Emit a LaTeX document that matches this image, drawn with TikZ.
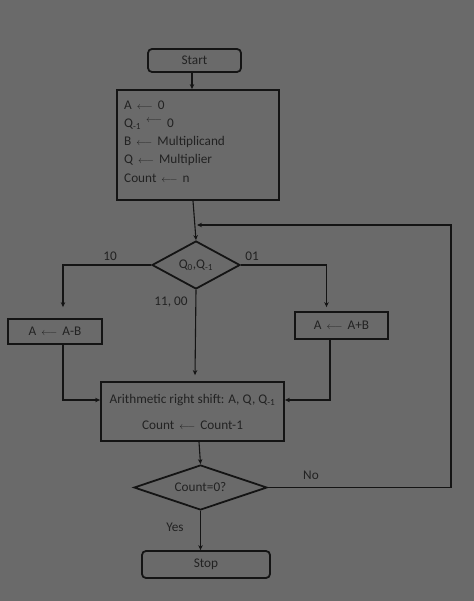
\documentclass[tikz,border=0pt]{standalone}
\usepackage{fontspec}
\setmainfont{Carlito}
\usetikzlibrary{shapes.geometric,arrows.meta}

\definecolor{bg}{HTML}{6A6A6A}
\definecolor{ink}{HTML}{141414}
\definecolor{txt}{HTML}{222222}

% thin assignment arrow used inside the boxes
\newcommand{\assignarrow}{\hspace{5bp}{\fontsize{10}{10}\selectfont$\longleftarrow$}\hspace{5bp}}

\tikzset{
  box/.style={draw=ink, line width=1.8bp, inner sep=0pt},
  term/.style={box, rounded corners=4bp},
  decision/.style={box, diamond},
  flow/.style={draw=ink, line width=1.1bp, -{Stealth[length=5bp,width=4.5bp]}},
  lbl/.style={text=txt}
}

\begin{document}
\begin{tikzpicture}[x=1bp, y=-1bp,
    every node/.style={font=\fontsize{13.3}{15}\selectfont, text=txt}]
  \fill[bg] (0,0) rectangle (474,601);
  \useasboundingbox (0,0) rectangle (474,601);

  % terminals
  \node[term, minimum width=93bp, minimum height=23bp] (start) at (194.5,60.5) {Start};
  \node[term, minimum width=128bp, minimum height=27bp] (stop) at (206,564.5) {Stop};

  % initialisation box
  \node[box, minimum width=162bp, minimum height=110bp] (init) at (198,145) {};
  \node[anchor=north west, align=left, inner sep=0pt,
        font=\fontsize{13.3}{18.3}\selectfont] (inittext) at (124,100.5)
    {A\assignarrow 0\\
     Q\textsubscript{-1}\raisebox{5bp}{\assignarrow}0\\
     B\assignarrow Multiplicand\\
     Q\assignarrow Multiplier\\
     Count\assignarrow n};

  % decisions
  \node[decision, aspect=1.8, minimum width=88bp, minimum height=48bp] (test) at (196,265)
    {Q\textsubscript{0},Q\textsubscript{-1}};
  \node[decision, aspect=3, minimum width=133bp, minimum height=45bp] (done) at (200.5,487.5)
    {Count=0?};

  % operations
  \node[box, minimum width=94bp, minimum height=25bp] (sub) at (55,331.5)
    {A\assignarrow A-B};
  \node[box, minimum width=93bp, minimum height=27bp] (add) at (341.5,325.5)
    {A\assignarrow A+B};
  \node[box, minimum width=183bp, minimum height=59bp, align=center,
        font=\fontsize{13.3}{26}\selectfont] (shift) at (192.5,411.5)
    {Arithmetic right shift: A, Q, Q\textsubscript{-1}\\
     Count\assignarrow Count-1};

  % branch labels
  \node[lbl] (l10) at (110,256) {10};
  \node[lbl] (l01) at (252,256) {01};
  \node[lbl] (lmid) at (171,302) {11, 00};
  \node[lbl] (lno) at (311,475) {No};
  \node[lbl] (lyes) at (175,527) {Yes};

  % loop return point
  \coordinate (merge) at (195,225);
  \coordinate (corner) at (451,225);

  % connectors
  \draw[flow] ([xshift=-2.5bp]start.south) -- ([xshift=-2.5bp]start.south |- init.north);
  \draw[flow] ([xshift=-5bp]init.south) -- (test.north);
  \draw[flow] (test.west) -| ([xshift=8bp, yshift=11bp]sub.north);
  \draw[flow] (test.east) -| ([xshift=-15bp, yshift=4bp]add.north);
  \draw[flow] (test.south) -- ([xshift=2.5bp, yshift=6bp]shift.north);
  \draw[flow] ([xshift=8bp]sub.south) |- ([yshift=11.5bp]shift.west);
  \draw[flow] ([xshift=-11.5bp]add.south) |- ([yshift=11.5bp]shift.east);
  \draw[flow] ([xshift=6.5bp]shift.south) -- (done.north);
  \draw[flow] (done.south) -- (done.south |- stop.north);
  \draw[flow] (done.east) -| (corner) -- ([xshift=2bp]merge);
\end{tikzpicture}
\end{document}
